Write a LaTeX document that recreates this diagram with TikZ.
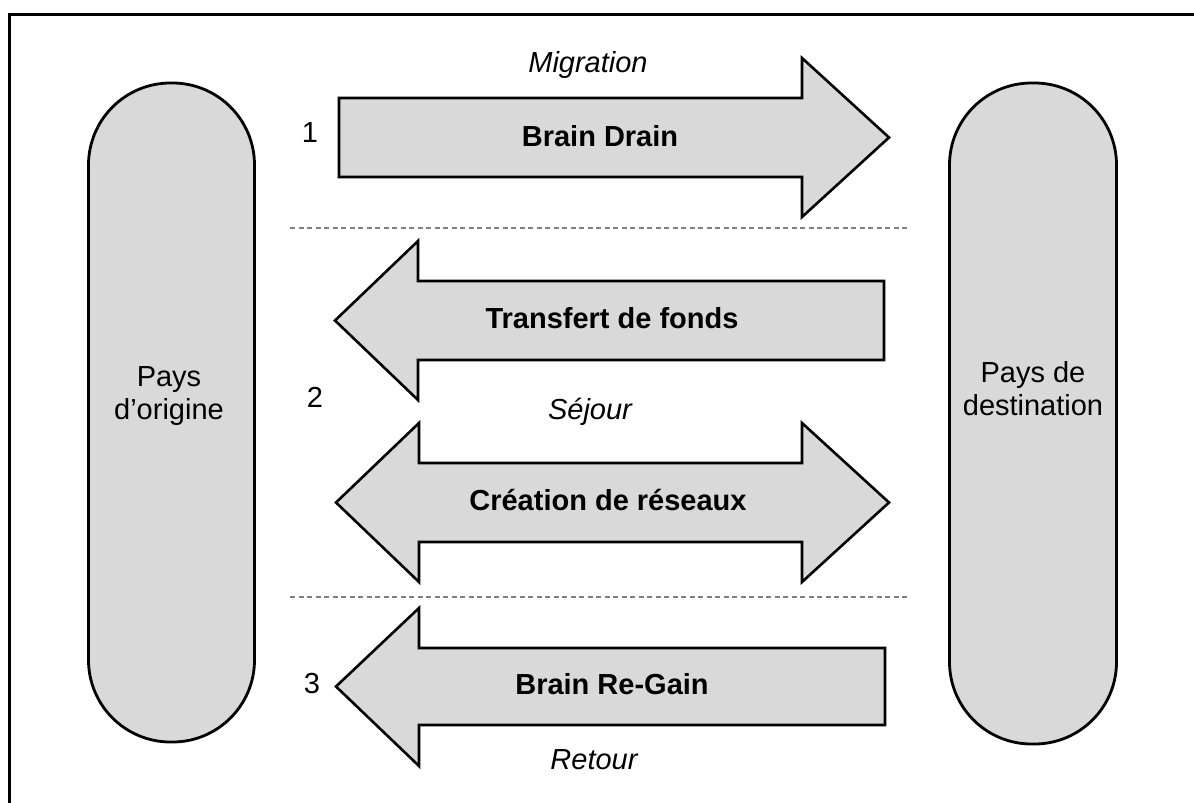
\documentclass[tikz,border=0pt]{standalone}
\usepackage{fontspec}
\setmainfont{Liberation Sans}
\definecolor{shapegrey}{HTML}{D9D9D9}
\definecolor{dashgrey}{HTML}{808080}
\begin{document}
\begin{tikzpicture}[x=1pt,y=-1pt,
  pill/.style={draw, line width=2.8pt, fill=shapegrey, rounded corners=82pt, inner sep=0pt},
  bigarrow/.style={draw, line width=2.6pt, fill=shapegrey, line join=miter, miter limit=10},
  sepline/.style={draw=dashgrey, line width=1.4pt, dash pattern=on 5pt off 3.5pt},
  txt/.style={font=\fontsize{29}{33}\selectfont, inner sep=0pt, anchor=base},
  boldtxt/.style={txt, font=\fontsize{29}{33}\selectfont\bfseries},
  ittxt/.style={txt, font=\fontsize{29}{33}\selectfont\itshape},
  pilltxt/.style={font=\fontsize{29}{33}\selectfont, inner sep=0pt, align=center}
]
\useasboundingbox (0,0) rectangle (1194,803);
% frame
\draw[line width=3pt] (9.5,820) -- (9.5,14.5) -- (1210,14.5);
% pills
\node[pill, minimum width=166pt, minimum height=659pt] (origin) at (171.5,412.5) {};
\node[pill, minimum width=167pt, minimum height=661pt] (dest) at (1033,413.5) {};
\node[pilltxt] (origintxt) at (169,396) {Pays\\d’origine};
\node[pilltxt] (desttxt) at (1033,388.5) {Pays de\\destination};
% separators
\coordinate (s1a) at (290,228); \coordinate (s1b) at (910,228);
\coordinate (s2a) at (290,597); \coordinate (s2b) at (910,597);
\draw[sepline] (s1a) -- (s1b);
\draw[sepline] (s2a) -- (s2b);
% arrow 1: Brain Drain (right)
\draw[bigarrow] (339,98) -- (802,98) -- (802,58) -- (889,137.5) -- (802,217) -- (802,177) -- (339,177) -- cycle;
% arrow 2: Transfert de fonds (left)
\draw[bigarrow] (335,320.5) -- (418,241) -- (418,281) -- (884,281) -- (884,360) -- (418,360) -- (418,400) -- cycle;
% arrow 3: Creation de reseaux (double)
\draw[bigarrow] (336,502.5) -- (419,423) -- (419,463) -- (802,463) -- (802,423) -- (889,502.5) -- (802,582) -- (802,542) -- (419,542) -- (419,582) -- cycle;
% arrow 4: Brain Re-Gain (left)
\draw[bigarrow] (336,686.5) -- (419,608) -- (419,648) -- (885,648) -- (885,725) -- (419,725) -- (419,766) -- cycle;
% labels
\node[ittxt] (migr) at (588,72) {Migration};
\node[boldtxt] (bd) at (600,146) {Brain Drain};
\node[boldtxt] (tf) at (612,328) {Transfert de fonds};
\node[ittxt] (sej) at (590,419) {Séjour};
\node[boldtxt] (cr) at (608,510) {Création de réseaux};
\node[boldtxt] (brg) at (612,694) {Brain Re-Gain};
\node[ittxt] (ret) at (594,769) {Retour};
\node[txt] (n1) at (310,142) {1};
\node[txt] (n2) at (315,407) {2};
\node[txt] (n3) at (312,693) {3};
\end{tikzpicture}
\end{document}
